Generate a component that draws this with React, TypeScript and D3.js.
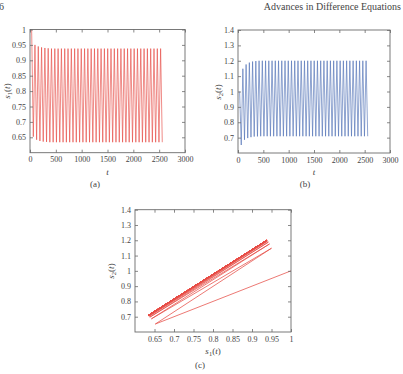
import * as d3 from "d3";
import { useEffect, useRef } from "react";

// samples are taken every 32 time units, starting at t = 32
const timeStep = 32;

const s1Values = [
  1.0, 0.652, 0.95, 0.642, 0.945, 0.638, 0.942, 0.636, 0.94, 0.635,
  0.939, 0.634, 0.938, 0.634, 0.938, 0.634, 0.938, 0.634, 0.938, 0.634,
  0.938, 0.634, 0.938, 0.634, 0.938, 0.634, 0.938, 0.634, 0.938, 0.634,
  0.938, 0.634, 0.938, 0.634, 0.938, 0.634, 0.938, 0.634, 0.938, 0.634,
  0.938, 0.634, 0.938, 0.634, 0.938, 0.634, 0.938, 0.634, 0.938, 0.634,
  0.938, 0.634, 0.938, 0.634, 0.938, 0.634, 0.938, 0.634, 0.938, 0.634,
  0.938, 0.634, 0.938, 0.634, 0.938, 0.634, 0.938, 0.634, 0.938, 0.634,
  0.938, 0.634, 0.938, 0.634, 0.938, 0.634, 0.938, 0.634, 0.938, 0.634,
];

const s2Values = [
  1.0, 0.652, 1.148, 0.686, 1.176, 0.697, 1.188, 0.703, 1.195, 0.707,
  1.198, 0.708, 1.2, 0.709, 1.2, 0.709, 1.2, 0.709, 1.2, 0.709,
  1.2, 0.709, 1.2, 0.709, 1.2, 0.709, 1.2, 0.709, 1.2, 0.709,
  1.2, 0.709, 1.2, 0.709, 1.2, 0.709, 1.2, 0.709, 1.2, 0.709,
  1.2, 0.709, 1.2, 0.709, 1.2, 0.709, 1.2, 0.709, 1.2, 0.709,
  1.2, 0.709, 1.2, 0.709, 1.2, 0.709, 1.2, 0.709, 1.2, 0.709,
  1.2, 0.709, 1.2, 0.709, 1.2, 0.709, 1.2, 0.709, 1.2, 0.709,
  1.2, 0.709, 1.2, 0.709, 1.2, 0.709, 1.2, 0.709, 1.2, 0.709,
];

const timeTicks = [0, 500, 1000, 1500, 2000, 2500, 3000];
const s1Ticks = [0.65, 0.7, 0.75, 0.8, 0.85, 0.9, 0.95, 1];
const s2Ticks = [0.7, 0.8, 0.9, 1, 1.1, 1.2, 1.3, 1.4];
const phaseTicks = [0.65, 0.7, 0.75, 0.8, 0.85, 0.9, 0.95, 1];

const RED = "#e64c46";
const BLUE = "#5273b6";
const INK = "#444";
const FRAME = "#6a6a6a";
const SERIF = "'Liberation Serif', 'Times New Roman', serif";

// box with inward ticks on all four sides, labels only bottom/left
function drawAxes(g, x, y, xTicks, yTicks) {
  const [x0, x1] = x.range();
  const [y0, y1] = y.range();
  const tick = 3;

  const bottom = g.append("g").attr("transform", `translate(0,${y0})`)
    .call(d3.axisBottom(x).tickValues(xTicks).tickSizeInner(-tick).tickSizeOuter(0).tickPadding(4).tickFormat(d => String(d)));
  const top = g.append("g").attr("transform", `translate(0,${y1})`)
    .call(d3.axisTop(x).tickValues(xTicks).tickSizeInner(-tick).tickSizeOuter(0).tickFormat(() => ""));
  const left = g.append("g").attr("transform", `translate(${x0},0)`)
    .call(d3.axisLeft(y).tickValues(yTicks).tickSizeInner(-tick).tickSizeOuter(0).tickPadding(4).tickFormat(d => String(d)));
  const right = g.append("g").attr("transform", `translate(${x1},0)`)
    .call(d3.axisRight(y).tickValues(yTicks).tickSizeInner(-tick).tickSizeOuter(0).tickFormat(() => ""));

  [bottom, top, left, right].forEach(a => {
    a.select(".domain").remove();
    a.selectAll("line").attr("stroke", FRAME).attr("stroke-width", 0.8);
    a.selectAll("text").attr("fill", INK).style("font-family", SERIF).style("font-size", "8px");
  });

  g.append("rect")
    .attr("x", x0).attr("y", y1)
    .attr("width", x1 - x0).attr("height", y0 - y1)
    .attr("fill", "none").attr("stroke", FRAME).attr("stroke-width", 0.9);
}

// s_k(t) with italic letters and a subscript index
function sLabel(sel, k) {
  sel.append("tspan").attr("font-style", "italic").text("s");
  sel.append("tspan").attr("font-size", "6.5px").attr("dy", 2).text(k);
  sel.append("tspan").attr("dy", -2).text("(");
  sel.append("tspan").attr("font-style", "italic").text("t");
  sel.append("tspan").text(")");
}

function addText(svg, x, y, str, rotate = false) {
  const t = svg.append("text")
    .attr("text-anchor", "middle")
    .attr("fill", INK)
    .style("font-family", SERIF)
    .style("font-size", "9px");
  if (rotate) t.attr("transform", `translate(${x},${y}) rotate(-90)`);
  else t.attr("x", x).attr("y", y);
  if (str) t.text(str);
  return t;
}

const App = () => {
  const svgRef = useRef(null);

  useEffect(() => {
    const svg = d3.select(svgRef.current);
    svg.selectAll("*").remove();

    const times = s1Values.map((_, i) => (i + 1) * timeStep);

    // page header
    svg.append("text").attr("x", -1).attr("y", 10)
      .attr("fill", INK).style("font-family", SERIF).style("font-size", "10px").text("6");
    svg.append("text").attr("x", 401).attr("y", 10).attr("text-anchor", "end")
      .attr("fill", INK).style("font-family", SERIF).style("font-size", "10px")
      .text("Advances in Difference Equations");

    // (a) s1 over time
    const xa = d3.scaleLinear().domain([0, 3000]).range([30, 185]);
    const ya = d3.scaleLinear().domain([0.6, 1]).range([152.7, 29.5]);
    const ga = svg.append("g");
    ga.append("path")
      .datum(s1Values)
      .attr("fill", "none").attr("stroke", RED).attr("stroke-width", 0.65)
      .attr("d", d3.line().x((_, i) => xa(times[i])).y(d => ya(d)));
    drawAxes(ga, xa, ya, timeTicks, s1Ticks);
    addText(svg, 107.5, 175, null).append("tspan").attr("font-style", "italic").text("t");
    sLabel(addText(svg, 10, 91, null, true), 1);
    addText(svg, 95, 187, "(a)");

    // (b) s2 over time
    const xb = d3.scaleLinear().domain([0, 3000]).range([238, 390]);
    const yb = d3.scaleLinear().domain([0.6, 1.4]).range([153, 30]);
    const gb = svg.append("g");
    gb.append("path")
      .datum(s2Values)
      .attr("fill", "none").attr("stroke", BLUE).attr("stroke-width", 0.65)
      .attr("d", d3.line().x((_, i) => xb(times[i])).y(d => yb(d)));
    drawAxes(gb, xb, yb, timeTicks, s2Ticks);
    addText(svg, 314, 175, null).append("tspan").attr("font-style", "italic").text("t");
    sLabel(addText(svg, 221, 92, null, true), 2);
    addText(svg, 305, 187, "(b)");

    // (c) phase portrait s2 against s1
    const xc = d3.scaleLinear().domain([0.6, 1]).range([135, 291]);
    const yc = d3.scaleLinear().domain([0.6, 1.4]).range([332, 209.7]);
    const gc = svg.append("g");
    gc.append("path")
      .datum(s1Values)
      .attr("fill", "none").attr("stroke", RED).attr("stroke-width", 0.75)
      .attr("d", d3.line().x(d => xc(d)).y((_, i) => yc(s2Values[i])));
    drawAxes(gc, xc, yc, phaseTicks, s2Ticks);
    sLabel(addText(svg, 213, 354, null), 1);
    sLabel(addText(svg, 114, 271, null, true), 2);
    addText(svg, 200, 368, "(c)");
  }, []);

  return (
    <div style={{ position: "absolute", left: 0, top: 0 }}>
      <svg ref={svgRef} width={403} height={374} style={{ display: "block", background: "#fff" }} />
    </div>
  );
};

export default App;
